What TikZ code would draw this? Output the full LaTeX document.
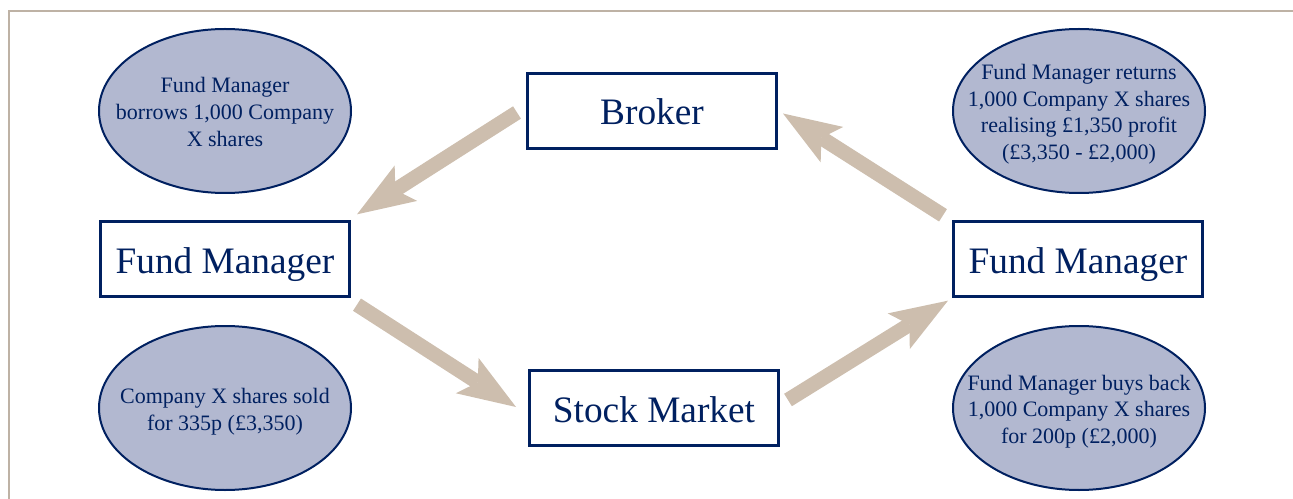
\documentclass[tikz,border=0pt]{standalone}
\usepackage{fontspec}
\setmainfont{Liberation Serif}
\usepackage{tikz}
\usetikzlibrary{arrows.meta}
\usetikzlibrary{shapes.geometric}
\usetikzlibrary{positioning}

\definecolor{navy}{RGB}{0,32,96}
\definecolor{oval}{RGB}{178,184,208}
\definecolor{tan}{RGB}{205,190,174}
\definecolor{rule}{RGB}{190,178,165}

% Centred lines that do not widen the oval around them.
\newcommand{\notetext}[1]{\makebox[0pt]{\raisebox{-2.5pt}[\height][\depth]{\begin{tabular}{@{}c@{}}#1\end{tabular}}}}

\tikzset{
  party/.style={draw=navy, line width=2pt, fill=white, text=navy, inner sep=0pt,
    minimum width=187pt, minimum height=56pt, text height=21pt, text depth=0pt,
    font=\fontsize{28}{32}\selectfont},
  note/.style={ellipse, draw=navy, line width=1.5pt, fill=oval, text=navy, inner sep=0pt,
    minimum width=189pt, minimum height=123pt,
    font=\fontsize{16.5}{20}\selectfont},
  flow/.style={draw=tan, line width=11pt,
    -{Stealth[length=43.5pt, width=31.5pt, inset=9.4pt, line width=0pt]}}
}

\begin{document}
\begin{tikzpicture}[x=0.75pt, y=-0.75pt]
    \useasboundingbox (0,0) rectangle (1293,499);
    % Draw the frame lines at the top and left.
    \draw[rule, line width=1.2pt] (9,499) -- (9,11) -- (1293,11);

    % Draw the parties of the trade.
    \node[party] (broker) at (652,111) {Broker};
    \node[party] (fmLeft) at (225,259) {Fund Manager};
    \node[party] (stock) at (654,408) {Stock Market};
    \node[party] (fmRight) at (1078,259) {Fund Manager};

    % Draw the notes on each step.
    \node[note] (borrow) at (225,111) {\notetext{Fund Manager\\borrows 1,000 Company\\X shares}};
    \node[note] (sold) at (225,408) {\notetext{Company X shares sold\\for 335p (£3,350)}};
    \node[note] (returns) at (1079,111) {\notetext{Fund Manager returns\\1,000 Company X shares\\realising £1,350 profit\\(£3,350 - £2,000)}};
    \node[note] (buyback) at (1079,408) {\notetext{Fund Manager buys back\\1,000 Company X shares\\for 200p (£2,000)}};

    % Draw the flow of the shares.
    \draw[flow] ([shift={(-9,1.5)}]broker.west) -- ([shift={(6,-6)}]fmLeft.north east);
    \draw[flow] ([shift={(6,7)}]fmLeft.south east) -- ([shift={(-12,-1)}]stock.west);
    \draw[flow] ([shift={(8,-8)}]stock.east) -- ([shift={(-4,3)}]fmRight.south west);
    \draw[flow] ([shift={(-9,-5)}]fmRight.north west) -- ([shift={(5,2.5)}]broker.east);
\end{tikzpicture}
\end{document}
